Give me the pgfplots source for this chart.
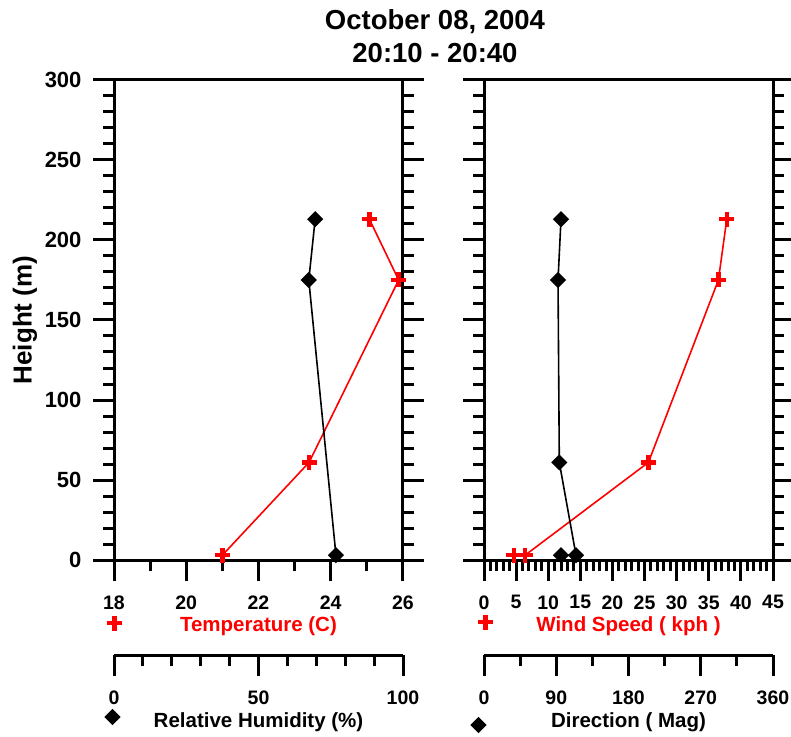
\documentclass[border=0pt]{standalone}
\usepackage{fontspec}
\setmainfont{Liberation Sans}
\usepackage{pgfplots}
\pgfplotsset{compat=1.18}
\newcommand\fyt{\fontsize{22}{26}\selectfont\bfseries}
\newcommand\fyl{\fontsize{26}{30}\selectfont\bfseries}
\newcommand\fxt{\fontsize{19.5}{23}\selectfont\bfseries}
\newcommand\flab{\fontsize{20.5}{24}\selectfont\bfseries}
\newcommand\ftit{\fontsize{27.5}{32}\selectfont\bfseries}
\pgfplotsset{
  base/.style={
    scale only axis, width=289pt, anchor=south west, clip=false,
    /pgf/number format/assume math mode=true,
    tick style={line width=3pt, black},
    tick align=outside,
    major tick length=21pt, minor tick length=11pt,
    axis line style={line width=3pt},
    legend image code/.code={\draw[##1] plot coordinates {(0pt,0pt)};},
    legend style={draw=none, fill=none, inner sep=0pt, outer sep=0pt,
      nodes={inner sep=0pt, outer sep=0pt}, column sep=0pt, row sep=0pt},
  },
  main/.style={base, height=480pt, ymin=0, ymax=300, ytick={0,50,...,300}, minor y tick num=4,
    xtick pos=bottom, ytick pos=both,
    yticklabel style={font=\fyt, xshift=-8pt}, xticklabel style={font=\fxt, yshift=-11pt},
    xlabel style={at={(axis description cs:0.5,0)}, anchor=base, yshift=-71pt, font=\flab, red},
  },
  sec/.style={base, height=10pt, ymin=0, ymax=1, axis x line*=bottom, axis y line=none,
    xticklabel style={font=\fxt, yshift=-11pt},
    xlabel style={at={(axis description cs:0.5,0)}, anchor=base, yshift=-72pt, font=\flab},
  },
  over/.style={scale only axis, width=289pt, height=480pt, anchor=south west, clip=false,
    hide axis, ymin=0, ymax=300},
  tplus/.style={red, line width=1.6pt, mark=+, mark size=7.5pt, mark options={line width=4.5pt, solid}},
  tdia/.style={black, line width=1.6pt, mark=square*, mark size=4.9pt, mark options={rotate=45, solid}},
}
\begin{document}
\begin{tikzpicture}
\path[use as bounding box] (0pt,0pt) rectangle (791pt,736pt);
% ---------- left panel ----------
\begin{axis}[main, at={(114pt,176pt)}, xmin=18, xmax=26, xtick={18,20,...,26}, minor x tick num=1,
  xlabel={Temperature (C)}, ylabel={Height (m)},
  ylabel style={at={(axis description cs:-0.308,0.5)}, anchor=center, font=\fyl},
  legend style={at={(axis description cs:0,0)}, anchor=center, xshift=1pt, yshift=-63pt}]
\addplot[tplus] coordinates {(21.0,3) (23.4,61) (25.88,175) (25.07,213)};
\addlegendentry{}
\end{axis}
\begin{axis}[sec, at={(114pt,81pt)}, xmin=0, xmax=100, xtick={0,50,100}, minor x tick num=4,
  xlabel={Relative Humidity (\%)},
  legend style={at={(axis description cs:0,0)}, anchor=center, xshift=-1pt, yshift=-62pt}]
\addlegendimage{tdia}
\addlegendentry{}
\end{axis}
\begin{axis}[over, at={(114pt,176pt)}, xmin=0, xmax=100]
\addplot[tdia] coordinates {(76.8,3) (67.4,175) (69.6,213)};
\end{axis}
% ---------- right panel ----------
\begin{axis}[main, at={(484pt,176pt)}, xmin=0, xmax=45, xtick={0,5,...,45}, minor x tick num=4,
  yticklabels={}, xlabel={Wind Speed ( kph )},
  legend style={at={(axis description cs:0,0)}, anchor=center, xshift=2pt, yshift=-62pt}]
\addplot[tplus] coordinates {(4.67,3) (6.4,3) (25.6,61) (36.5,175) (37.8,213)};
\addlegendentry{}
\end{axis}
\begin{axis}[sec, at={(484pt,81pt)}, xmin=0, xmax=360, xtick={0,90,...,360}, minor x tick num=1,
  xlabel={Direction ( Mag)},
  legend style={at={(axis description cs:0,0)}, anchor=center, xshift=-5pt, yshift=-70pt}]
\addlegendimage{tdia}
\addlegendentry{}
\end{axis}
\begin{axis}[over, at={(484pt,176pt)}, xmin=0, xmax=360]
\addplot[tdia] coordinates {(95.9,3) (114.6,3) (93.8,61) (92.2,175) (95.9,213)};
\end{axis}
% ---------- title ----------
\node[font=\ftit, anchor=base] at (435pt,706pt) {October 08, 2004};
\node[font=\ftit, anchor=base] at (435pt,673pt) {20:10 - 20:40};
\end{tikzpicture}
\end{document}
